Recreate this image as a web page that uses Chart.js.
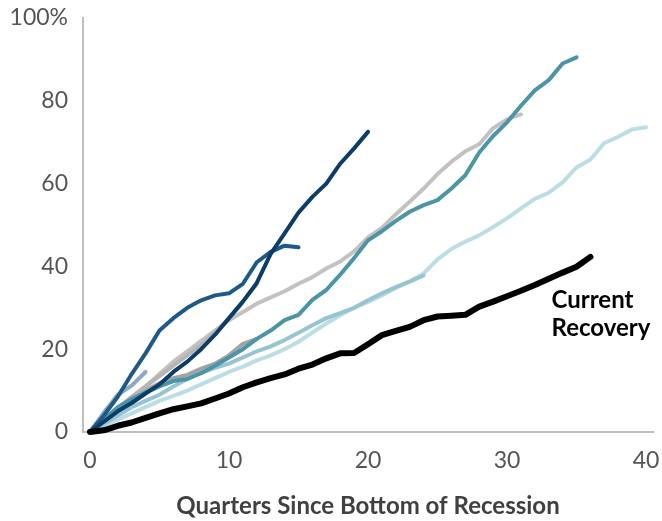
<!DOCTYPE html>
<html>
<head>
<meta charset="utf-8">
<script src="https://cdn.jsdelivr.net/npm/chart.js@4/dist/chart.umd.min.js"></script>
<style>
  body { margin: 0; background: #fff; }
  #wrap { width: 662px; height: 521px; }
</style>
</head>
<body>
<div id="wrap"><canvas id="recoveryChart" width="662" height="521"></canvas></div>
<script>
// quarters since the bottom of each recession
var quarters = [0, 1, 2, 3, 4, 5, 6, 7, 8, 9, 10, 11, 12, 13, 14, 15, 16, 17, 18, 19, 20,
    21, 22, 23, 24, 25, 26, 27, 28, 29, 30, 31, 32, 33, 34, 35, 36, 37, 38, 39, 40];

var xTicks = [0, 10, 20, 30, 40];
var yTicks = [0, 20, 40, 60, 80, 100];
var yTickLabels = ["0", "20", "40", "60", "80", "100%"];

// cumulative % change, one array per recovery
var currentRecovery = [0, 0.4, 1.5, 2.3, 3.4, 4.5, 5.5, 6.2, 6.9, 8.1, 9.3, 10.8, 12.0, 13.0, 13.9, 15.3,
    16.3, 17.8, 19.0, 19.1, 21.2, 23.4, 24.4, 25.4, 27.0, 27.9, 28.1, 28.3, 30.3, 31.5, 32.8, 34.1,
    35.5, 37.0, 38.5, 39.9, 42.3];
var darkNavy = [0, 2.5, 5, 7, 9.3, 11.5, 14.5, 17, 20, 23.5, 27.5, 31.5, 36, 43, 48, 53, 56.8, 60,
    64.8, 68.5, 72.5];
var mediumBlue = [0, 4, 8.5, 14, 19, 24.5, 27.5, 30, 31.8, 33, 33.5, 35.8, 41, 43.5, 45, 44.6];
var greyBlue = [0, 4.7, 9, 11.2, 14.5];
var greyShort = [0, 3, 5.8, 8.5, 11, 13.5, 16, 18.5, 21, 24, 27.5, 31.5, 35.8];
var greyDark = [0, 2.8, 5.5, 8, 10, 11.8, 13, 13.8, 15.3, 16.5, 18.5, 21.3, 22.5];
var teal = [0, 3, 6, 8, 9.5, 11, 12.3, 12.8, 14.2, 16, 18, 20, 22.5, 24.5, 27, 28.3, 31.9, 34.3, 38,
    42, 46.3, 48.5, 51, 53.2, 54.8, 56, 58.8, 62, 67.5, 71.5, 74.8, 78.8, 82.5, 85, 89, 90.5];
var greyLong = [0, 2.5, 5, 8, 11, 14, 17, 19.5, 22, 24.5, 27, 29, 31, 32.5, 34, 35.8, 37.4, 39.5,
    41.2, 43.6, 47, 49.3, 52.6, 55.6, 58.8, 62.3, 65.3, 67.8, 69.5, 73.4, 75.5, 76.7];
var paleBlue = [0, 1.5, 3, 4.5, 6, 7.5, 8.7, 10, 11.5, 13, 14.5, 15.8, 17.3, 18.5, 20, 21.8, 24,
    26.2, 28.2, 30, 31.4, 33, 34.8, 36.4, 38.3, 41.7, 44.2, 46, 47.5, 49.5, 51.6, 54, 56.3, 57.8,
    60.3, 63.9, 65.8, 69.8, 71.3, 73.1, 73.6];
var lightBlue = [0, 2, 4, 6, 7.5, 9, 11, 12.8, 14.3, 15.5, 16.5, 18, 19.5, 20.7, 22.2, 24, 25.8,
    27.5, 28.7, 30, 31.8, 33.5, 35, 36.3, 37.8];

function points(values) {
    return values.map(function (v, i) {
        return { x: quarters[i], y: v };
    });
}

function line(label, values, color, width) {
    return {
        label: label,
        data: points(values),
        borderColor: color,
        borderWidth: width,
        pointRadius: 0,
        tension: 0,
        borderCapStyle: "round",
        borderJoinStyle: "round",
        clip: false
    };
}

// first dataset is drawn on top
var datasets = [
    line("Current Recovery", currentRecovery, "#000000", 6),
    line("darkNavy", darkNavy, "#0c3d68", 4),
    line("mediumBlue", mediumBlue, "#1e5a88", 4),
    line("teal", teal, "#4b95a7", 4),
    line("greyBlue", greyBlue, "#8ea9c5", 4),
    line("greyShort", greyShort, "#b5b5b5", 4),
    line("greyDark", greyDark, "#a3a3a3", 4),
    line("lightBlue", lightBlue, "#97c4d1", 4),
    line("greyLong", greyLong, "#c4c2c0", 4),
    line("paleBlue", paleBlue, "#bcdde4", 4)
];

var labelPlugin = {
    id: "currentLabel",
    afterDatasetsDraw: function (chart) {
        var ctx = chart.ctx;
        var x = chart.scales.x;
        var y = chart.scales.y;
        ctx.save();
        ctx.fillStyle = "#000";
        ctx.font = "bold 24px Lato";
        ctx.textAlign = "left";
        ctx.textBaseline = "middle";
        ctx.fillText("Current", x.getPixelForValue(33.2), y.getPixelForValue(31.9));
        ctx.fillText("Recovery", x.getPixelForValue(33.2), y.getPixelForValue(25.1));
        ctx.restore();
    }
};

var ctx = document.getElementById("recoveryChart").getContext("2d");
var chart = new Chart(ctx, {
    type: "line",
    data: { datasets: datasets },
    options: {
        responsive: false,
        animation: false,
        events: [],
        layout: { padding: { top: 18, right: 9, left: 0, bottom: 0 } },
        plugins: {
            legend: { display: false },
            tooltip: { enabled: false }
        },
        scales: {
            x: {
                type: "linear",
                min: -0.5,
                max: 40.5,
                grid: { display: false, drawTicks: false },
                border: { display: true, color: "#bfbfbf", width: 2 },
                afterBuildTicks: function (scale) {
                    scale.ticks = xTicks.map(function (v) { return { value: v }; });
                },
                afterFit: function (scale) {
                    scale.height = 89;
                    scale.paddingLeft = 0;
                    scale.paddingRight = 0;
                },
                ticks: {
                    padding: 15,
                    color: "#555555",
                    font: { family: "Lato", size: 23 },
                    maxRotation: 0
                },
                title: {
                    display: true,
                    text: "Quarters Since Bottom of Recession",
                    color: "#404040",
                    font: { family: "Lato", size: 24, weight: "bold" },
                    padding: { top: 0, bottom: 0 }
                }
            },
            y: {
                min: 0,
                max: 100,
                grid: { display: false, drawTicks: false },
                border: { display: true, color: "#bfbfbf", width: 2 },
                afterBuildTicks: function (scale) {
                    scale.ticks = yTicks.map(function (v) { return { value: v }; });
                },
                afterFit: function (scale) {
                    scale.width = 83;
                    scale.paddingTop = 0;
                    scale.paddingBottom = 0;
                },
                ticks: {
                    padding: 15,
                    color: "#555555",
                    font: { family: "Lato", size: 23 },
                    callback: function (value) {
                        return yTickLabels[yTicks.indexOf(value)];
                    }
                }
            }
        }
    },
    plugins: [labelPlugin]
});
</script>
</body>
</html>
